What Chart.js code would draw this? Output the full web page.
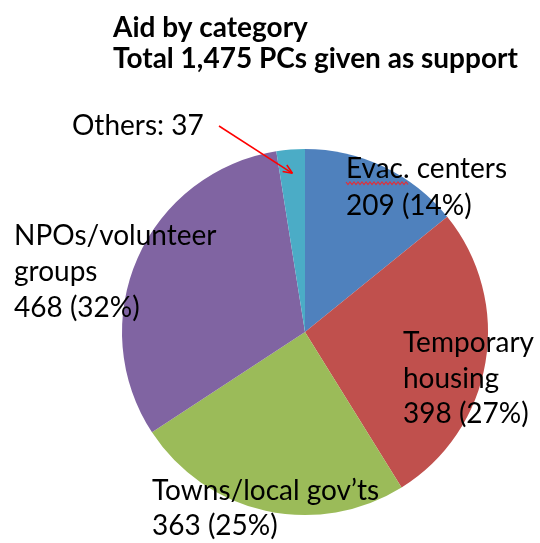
<!DOCTYPE html>
<html>
<head>
<meta charset="utf-8">
<script src="https://cdn.jsdelivr.net/npm/chart.js@4/dist/chart.umd.min.js"></script>
<style>
  html, body { margin: 0; padding: 0; background: #fff; }
  #wrap { width: 540px; height: 543px; }
</style>
</head>
<body>
<div id="wrap"><canvas id="canvas" width="540" height="543"></canvas></div>
<script>
// data
var categories = ['Evac. centers', 'Temporary housing', 'Towns/local gov\u2019ts', 'NPOs/volunteer groups', 'Others'];
var pcs = [209, 398, 363, 468, 37];
var sliceColors = ['#4F81BD', '#C0504D', '#9BBB59', '#8064A2', '#4BACC6'];
var titleLines = ['Aid by category', 'Total 1,475 PCs given as support'];

// label text lines per slice (name wrapped as in the picture)
var labelLines = [
    ['Evac. centers'],
    ['Temporary', 'housing'],
    ['Towns/local gov\u2019ts'],
    ['NPOs/volunteer', 'groups'],
    ['Others: ']
];

var total = pcs.reduce(function (a, b) { return a + b; }, 0);

var FONT = 'Lato, "Open Sans", sans-serif';

// where each label block starts (left x, first baseline y, line step)
var labelPos = [
    [346, 178, 37],
    [403, 352, 35.5],
    [152, 500, 35],
    [14, 245, 36],
    [72, 135, 36]
];

var labelsPlugin = {
    id: 'labels',
    afterDraw: function (chart) {
        var ctx = chart.ctx;
        ctx.save();

        // title
        ctx.fillStyle = '#000';
        ctx.textBaseline = 'alphabetic';
        ctx.font = 'bold 28px ' + FONT;
        ctx.fillText(titleLines[0], 113, 37);
        ctx.fillText(titleLines[1], 113, 68);

        ctx.font = '28px ' + FONT;
        for (var i = 0; i < pcs.length; i++) {
            var lines = labelLines[i].slice();
            if (i === pcs.length - 1) {
                lines[0] = lines[0] + pcs[i];
            } else {
                var pct = Math.round(pcs[i] / total * 100);
                lines.push(pcs[i] + ' (' + pct + '%)');
            }
            for (var j = 0; j < lines.length; j++) {
                ctx.fillText(lines[j], labelPos[i][0], labelPos[i][1] + j * labelPos[i][2]);
            }
        }

        // spellcheck squiggle under "Evac."
        var w = ctx.measureText('Evac.').width;
        ctx.strokeStyle = '#e0303a';
        ctx.lineWidth = 1.2;
        ctx.beginPath();
        var sx = labelPos[0][0], sy = labelPos[0][1] + 4;
        for (var k = 0; k <= w; k += 2) {
            var yy = sy + ((k / 2) % 2 === 0 ? 0 : 2.5);
            if (k === 0) ctx.moveTo(sx + k, yy); else ctx.lineTo(sx + k, yy);
        }
        ctx.stroke();

        // arrow from "Others" label to its slice
        var arc = chart.getDatasetMeta(0).data[4];
        var ang = (arc.startAngle + arc.endAngle) / 2;
        var ex = arc.x + Math.cos(ang) * arc.outerRadius * 0.87;
        var ey = arc.y + Math.sin(ang) * arc.outerRadius * 0.87;
        var bx = 219, by = 126;
        ctx.strokeStyle = '#ff0000';
        ctx.lineWidth = 1.5;
        ctx.beginPath();
        ctx.moveTo(bx, by);
        ctx.lineTo(ex, ey);
        ctx.stroke();
        var a = Math.atan2(ey - by, ex - bx);
        ctx.beginPath();
        ctx.moveTo(ex, ey);
        ctx.lineTo(ex - 10 * Math.cos(a - 0.4), ey - 10 * Math.sin(a - 0.4));
        ctx.moveTo(ex, ey);
        ctx.lineTo(ex - 10 * Math.cos(a + 0.4), ey - 10 * Math.sin(a + 0.4));
        ctx.stroke();

        ctx.restore();
    }
};

var ctx = document.getElementById('canvas').getContext('2d');
var myChart = new Chart(ctx, {
    type: 'pie',
    data: {
        labels: categories,
        datasets: [{
            data: pcs,
            backgroundColor: sliceColors,
            borderWidth: 0
        }]
    },
    options: {
        responsive: false,
        animation: false,
        layout: {
            padding: { left: 122, right: 52, top: 149, bottom: 28 }
        },
        plugins: {
            legend: { display: false },
            tooltip: { enabled: false },
            title: { display: false }
        }
    },
    plugins: [labelsPlugin]
});
</script>
</body>
</html>
